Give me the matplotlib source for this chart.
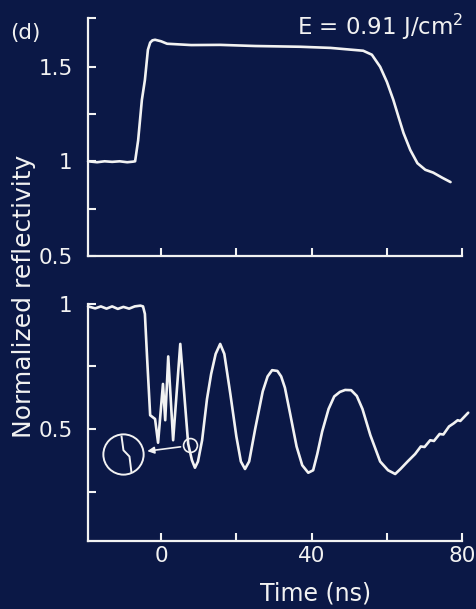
import matplotlib.pyplot as plt
from matplotlib.ticker import FixedLocator

# Upper trace: reflectivity step (time in ns, normalized reflectivity)
t_top = [-19.4, -17, -15, -13, -11, -9, -7.5, -6.9, -6.1, -5.1, -4.3, -3.5, -2.9,
         -2.3, -1.6, 0.0, 1.6, 8, 15.7, 25, 37, 45, 53.7, 56, 58.2, 60, 61.7, 63, 64.4,
         66.2, 68.1, 70.2, 72.3, 74.7, 76.9]
r_top = [1.0, 0.995, 1.0, 0.997, 1.0, 0.995, 0.998, 1.0, 1.11, 1.325, 1.43, 1.59, 1.628,
         1.640, 1.643, 1.635, 1.622, 1.615, 1.616, 1.61, 1.606, 1.60, 1.585, 1.564, 1.5, 1.42,
         1.325, 1.24, 1.15, 1.06, 0.99, 0.955, 0.94, 0.913, 0.89]

# Lower trace: oscillating reflectivity
t_bot = [-19.4, -17.5, -16, -14.5, -13, -11.5, -10, -8.5, -7, -5.5, -4.8, -4.3, -3.7, -2.9,
         -1.6, -0.8, 0.5, 1.1, 1.9, 3.2, 5.1, 7.2, 8.2, 9.0, 9.8, 10.9, 12.2, 13.3,
         14.5, 15.7, 16.8, 18.4, 20.0, 21.2, 22.3, 23.4, 25.0, 27.0, 28.3, 29.5, 30.9,
         31.9, 32.9, 34.3, 36.0, 37.5, 39.1, 40.4, 41.5, 42.8, 44.5, 46.0, 47.5, 48.9,
         50.5, 52.0, 53.5, 55.6, 58.2, 60.3, 62.2, 63.6, 65.5, 66.5, 67.5,
         69.0, 70.0, 71.5, 72.5, 74.0, 75.0, 76.5, 77.7, 78.8, 79.5, 81.6]
r_bot = [0.99, 0.982, 0.99, 0.981, 0.99, 0.98, 0.988, 0.981, 0.99, 0.993, 0.99, 0.96, 0.78, 0.555,
         0.54, 0.445, 0.68, 0.535, 0.79, 0.455, 0.84, 0.44, 0.375, 0.345, 0.37, 0.455, 0.62, 0.72,
         0.80, 0.84, 0.80, 0.64, 0.47, 0.37, 0.34, 0.37, 0.50, 0.65, 0.71, 0.735, 0.732,
         0.71, 0.665, 0.56, 0.43, 0.355, 0.325, 0.335, 0.40, 0.49, 0.58, 0.63, 0.648, 0.656,
         0.655, 0.632, 0.58, 0.475, 0.37, 0.335, 0.32, 0.34, 0.37, 0.385, 0.40,
         0.43, 0.428, 0.455, 0.452, 0.48, 0.478, 0.51, 0.522, 0.535, 0.532, 0.565]

# Inset: magnified kink in the trace
kink_t = [-10.5, -10.0, -8.4, -7.9]
kink_r = [0.47, 0.415, 0.39, 0.33]

bg = '#0b1846'
fg = '#f2f2f2'
line_kw = dict(color=fg, lw=1.9, clip_on=False,
               solid_joinstyle='round', solid_capstyle='round')

fig = plt.figure(figsize=(4.76, 6.09), dpi=100, facecolor=bg)
ax1 = fig.add_axes([0.185, 0.580, 0.786, 0.391], facecolor=bg)
ax2 = fig.add_axes([0.185, 0.112, 0.786, 0.389], facecolor=bg)

for ax in (ax1, ax2):
    ax.set_xlim(-19.4, 80)
    for side in ('top', 'right'):
        ax.spines[side].set_visible(False)
    for side in ('left', 'bottom'):
        ax.spines[side].set_color(fg)
        ax.spines[side].set_linewidth(1.6)
    ax.xaxis.set_major_locator(FixedLocator([0, 40, 80]))
    ax.xaxis.set_minor_locator(FixedLocator([20, 60]))
    ax.tick_params(which='both', direction='in', length=6, width=1.5, colors=fg,
                   labelsize=15.5)
    ax.tick_params(axis='y', pad=11)
    ax.tick_params(axis='x', pad=4)

# upper panel
ax1.plot(t_top, r_top, **line_kw)
ax1.set_ylim(0.5, 1.76)
ax1.yaxis.set_major_locator(FixedLocator([0.5, 1, 1.5]))
ax1.yaxis.set_minor_locator(FixedLocator([0.75, 1.25, 1.76]))
ax1.set_yticklabels(['0.5', '1', '1.5'])
ax1.set_xticklabels([])

# lower panel
ax2.plot(t_bot, r_bot, **line_kw)
ax2.set_ylim(0.053, 1.0)
ax2.yaxis.set_major_locator(FixedLocator([0.5, 1]))
ax2.yaxis.set_minor_locator(FixedLocator([0.25, 0.75]))
ax2.set_yticklabels(['0.5', '1'])
ax2.set_xticklabels(['0', '40', '80'])

# magnifier circles and arrow
ax2.plot([-10.1], [0.398], marker='o', ms=29, mfc='none', mec=fg, mew=1.4)
ax2.plot([7.7], [0.435], marker='o', ms=10, mfc='none', mec=fg, mew=1.2)
ax2.plot(kink_t, kink_r, color=fg, lw=1.4, solid_joinstyle='round')
ax2.annotate('', xy=(-4.4, 0.41), xytext=(5.9, 0.43),
             arrowprops=dict(arrowstyle='-|>', color=fg, lw=1.2, mutation_scale=10))

fig.text(10 / 476, 1 - 33 / 609, '(d)', color=fg, fontsize=15.5, va='center', ha='left')
fig.text(463 / 476, 1 - 27 / 609, 'E = 0.91 J/cm$^2$', color=fg, fontsize=16.5,
         va='center', ha='right')
fig.text(24 / 476, 1 - 296 / 609, 'Normalized reflectivity', color=fg, fontsize=18,
         rotation=90, va='center', ha='center')
fig.text(316 / 476, 1 - 593 / 609, 'Time (ns)', color=fg, fontsize=17,
         va='center', ha='center')

fig.savefig('out.png', dpi=100, facecolor=bg)
